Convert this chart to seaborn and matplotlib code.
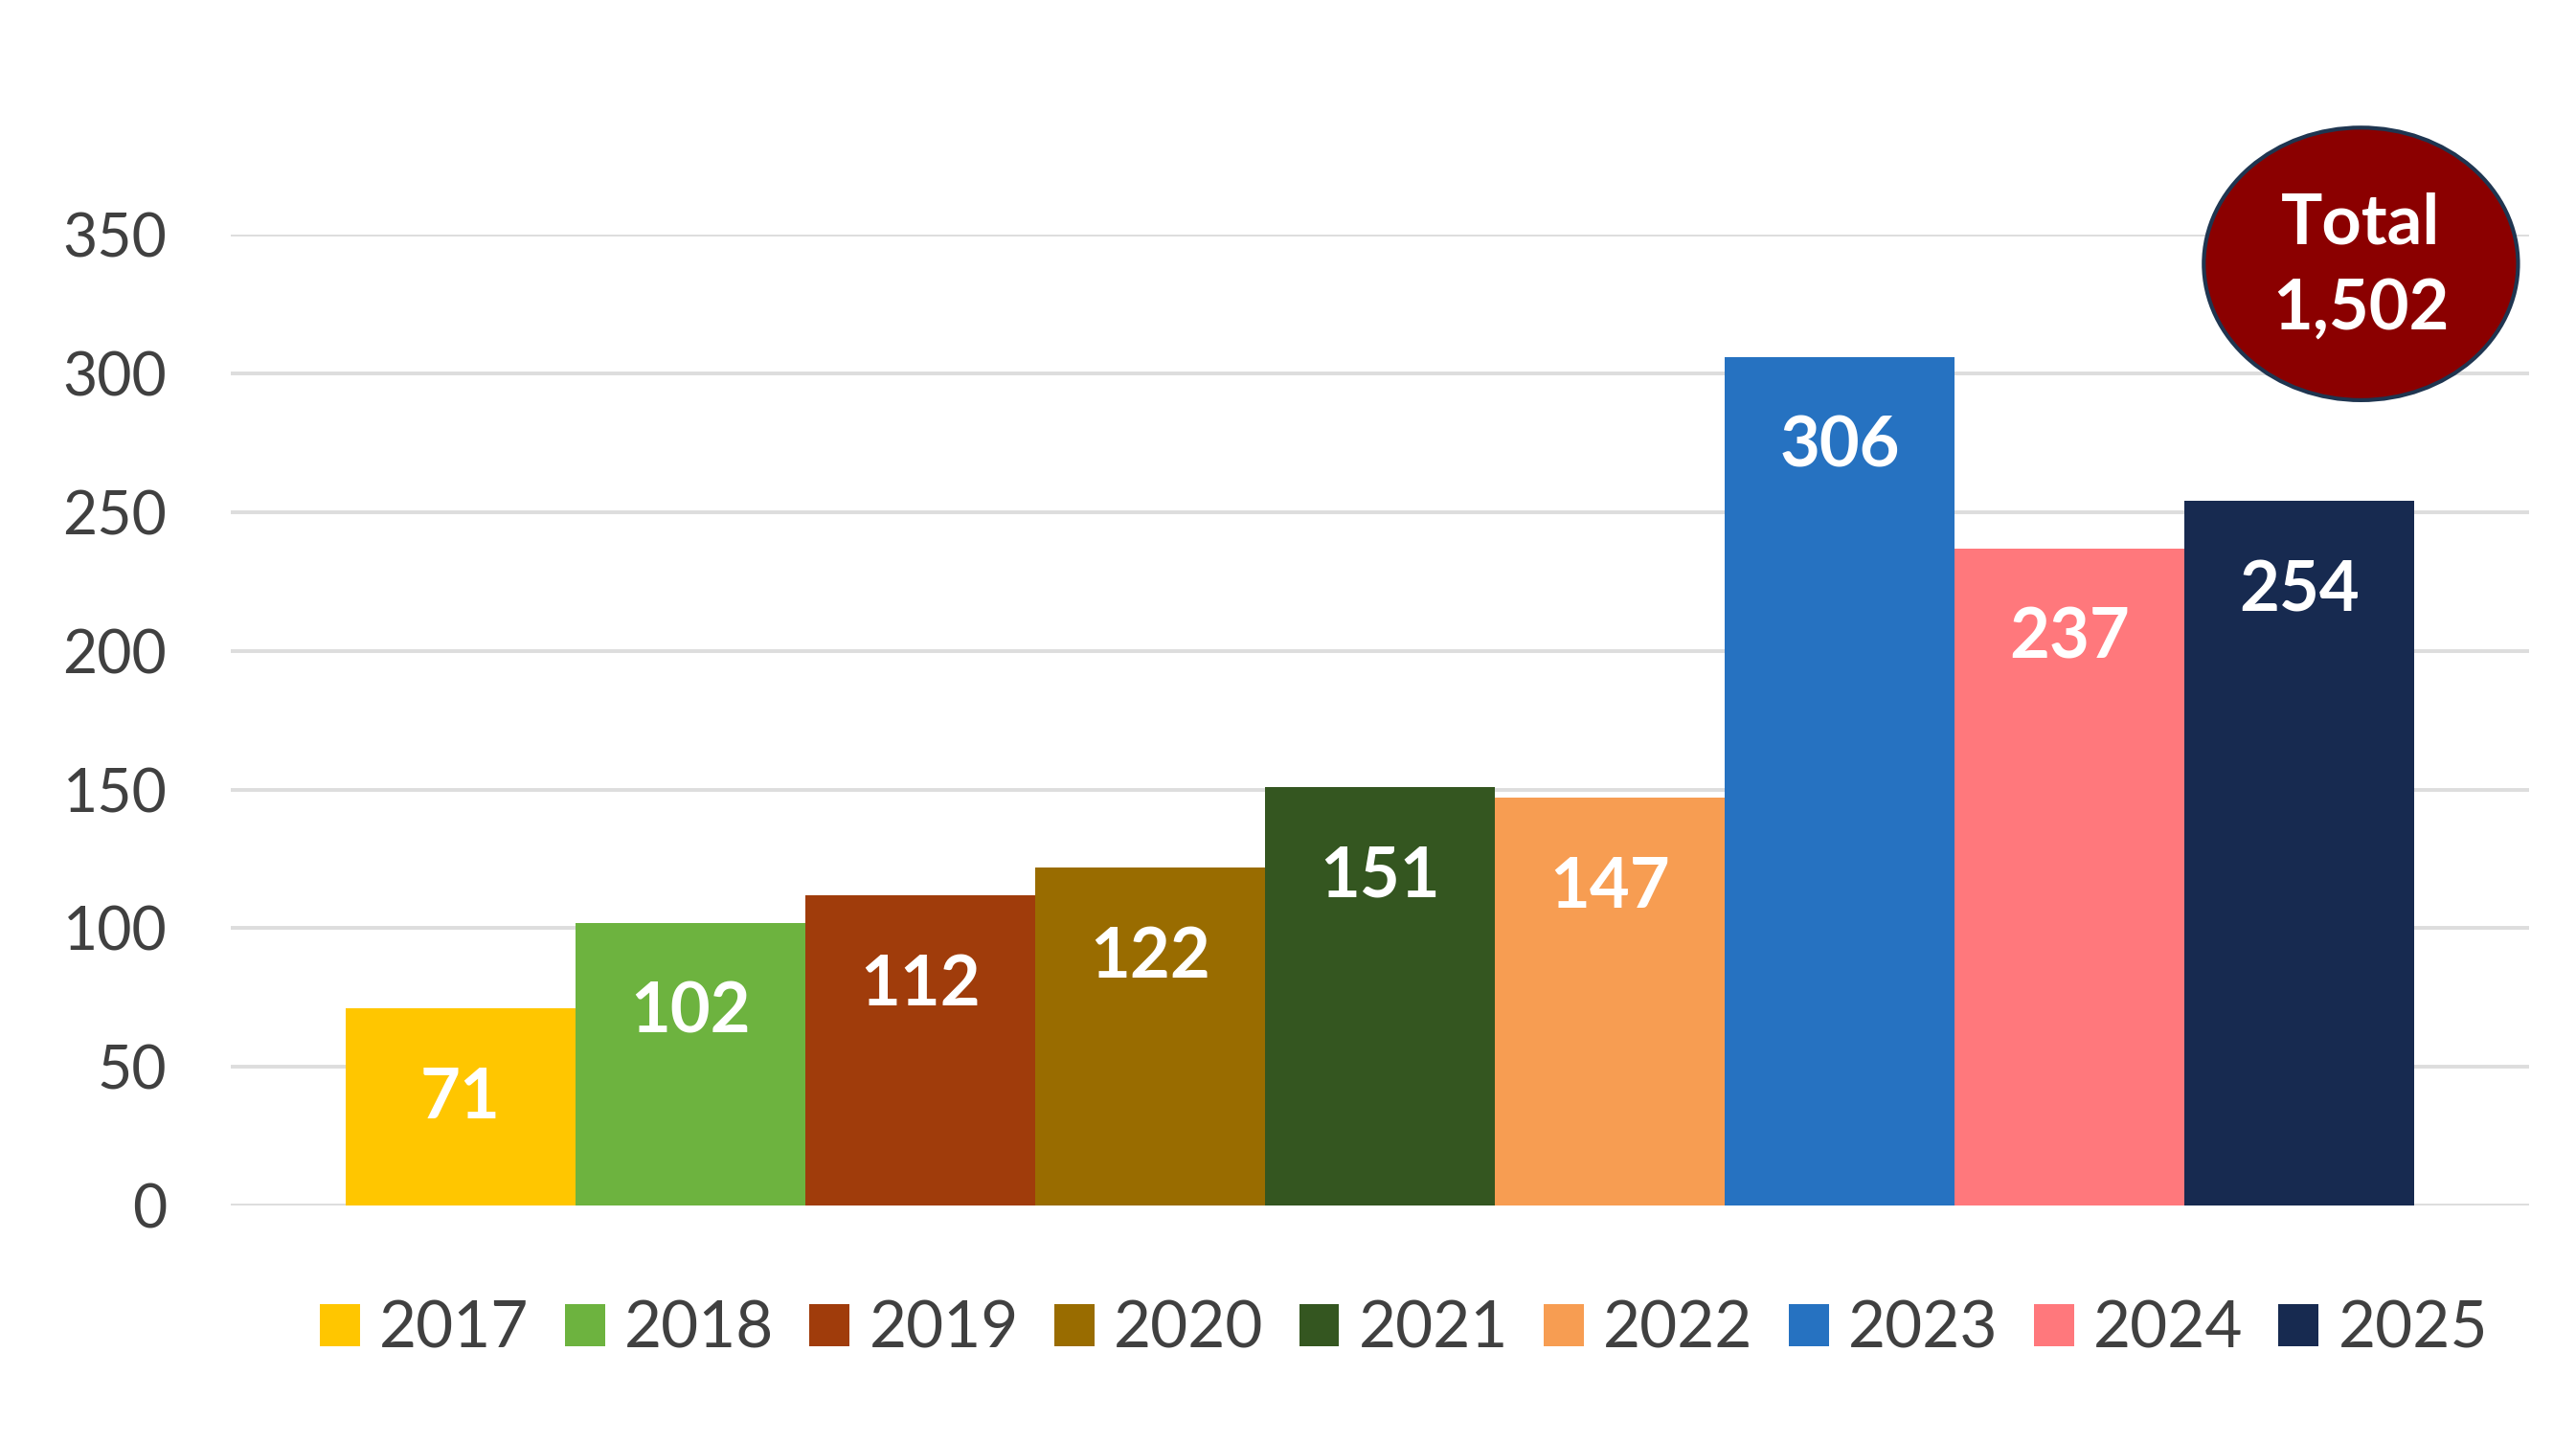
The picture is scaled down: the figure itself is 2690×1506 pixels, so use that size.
import pandas as pd
import seaborn as sns
import matplotlib.pyplot as plt
from matplotlib.patches import Ellipse

years = ["2017", "2018", "2019", "2020", "2021", "2022", "2023", "2024", "2025"]
counts = [71, 102, 112, 122, 151, 147, 306, 237, 254]
colors = ["#FFC600", "#6DB33F", "#A03C0B", "#996C00", "#345620",
          "#F79D52", "#2672C1", "#FF787C", "#172A50"]
yticks = [0, 50, 100, 150, 200, 250, 300, 350]

df = pd.DataFrame({"year": years, "count": counts})

sns.set_theme(style="white")
plt.rcParams["font.family"] = ["Lato", "DejaVu Sans"]

fig = plt.figure(figsize=(13.45, 7.53), dpi=200)
ax = fig.add_axes([0.0896, 0.164, 0.8923, 0.673])

sns.barplot(data=df, x="year", y="count", hue="year", palette=colors,
            order=years, hue_order=years, width=1.0, saturation=1,
            linewidth=0, ax=ax, legend=True)

ax.set_xlim(-1, 9)
ax.set_ylim(0, 350)
ax.set_yticks(yticks)
ax.set_xticks([])
ax.set_xlabel("")
ax.set_ylabel("")
ax.tick_params(axis="y", length=0, pad=24, labelsize=22.5, labelcolor="#404040")
for s in ax.spines.values():
    s.set_visible(False)
ax.set_axisbelow(True)
ax.yaxis.grid(True, color="#DDDDDD", linewidth=1.4)

# value labels inside top of each bar
for i, v in enumerate(counts):
    ax.annotate(str(v), xy=(i, v), xytext=(0, -34), textcoords="offset points",
                ha="center", va="center", color="white", fontsize=26,
                fontweight="bold")

# legend along the bottom
handles, labels = ax.get_legend_handles_labels()
ax.get_legend().remove()
fig.legend(handles, labels, loc="center", bbox_to_anchor=(0.545, 0.078),
           ncol=9, frameon=False, fontsize=24.3, labelcolor="#404040",
           handlelength=0.62, handleheight=0.62, handletextpad=0.3,
           columnspacing=0.55, borderaxespad=0)

# total badge
fig.patches.append(Ellipse((0.9165, 0.817), 0.122, 0.189, transform=fig.transFigure,
                           facecolor="#8B0000", edgecolor="#1F3550", linewidth=1.5,
                           zorder=5))
fig.text(0.9165, 0.815, "Total\n{:,}".format(sum(counts)), ha="center", va="center",
         color="white", fontsize=26, fontweight="bold", linespacing=1.4, zorder=6)

fig.savefig("out.png", dpi=200, facecolor="white")
